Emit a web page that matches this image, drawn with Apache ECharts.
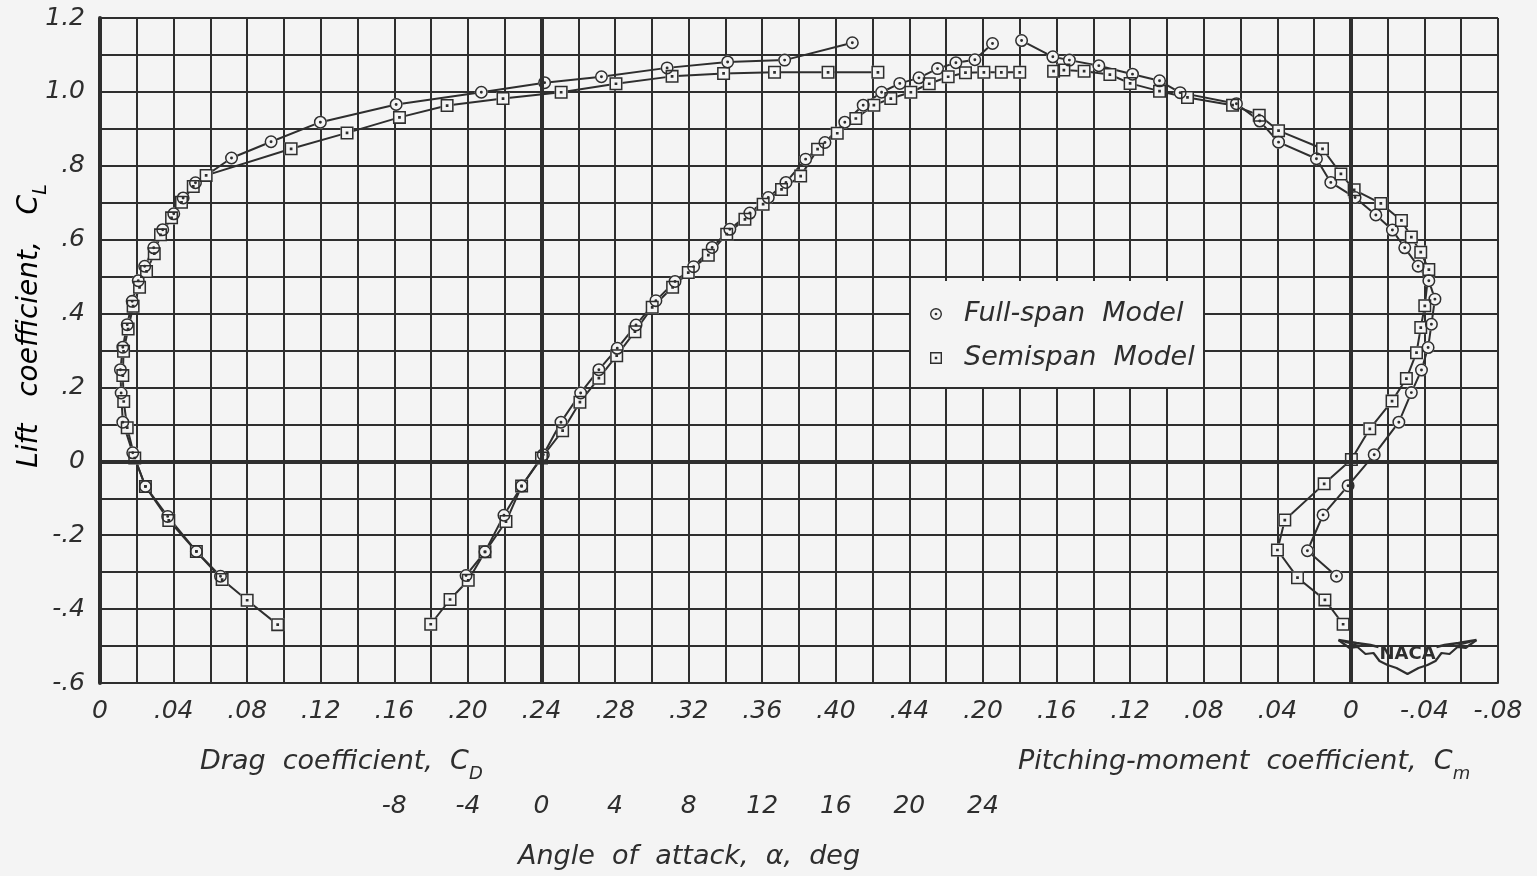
<!DOCTYPE html>
<html>
<head>
<meta charset="utf-8">
<script src="https://cdn.jsdelivr.net/npm/echarts@6/dist/echarts.min.js"></script>
<style>
  html, body { margin: 0; padding: 0; background: #f4f4f4; }
  #chart { width: 1537px; height: 876px; }
</style>
</head>
<body>
<div id="chart"></div>
<script>
// Lift, drag and pitching-moment characteristics, full-span vs semispan model.
// Each pair is [x value, lift coefficient C_L].

// Drag polar: [C_D, C_L]
const dragFull = [
  [0.0655, -0.311], [0.0524, -0.244], [0.0368, -0.149], [0.0247, -0.068], [0.0178, 0.023],
  [0.0124, 0.106], [0.0115, 0.185], [0.0111, 0.248], [0.0124, 0.309], [0.0148, 0.370],
  [0.0175, 0.433], [0.0208, 0.489], [0.0243, 0.528], [0.0292, 0.578], [0.0341, 0.627],
  [0.0401, 0.670], [0.0452, 0.713], [0.0519, 0.754], [0.0715, 0.821], [0.0930, 0.865],
  [0.1198, 0.918], [0.1610, 0.966], [0.2073, 0.999], [0.2417, 1.025], [0.2726, 1.041],
  [0.3083, 1.065], [0.3412, 1.081], [0.3722, 1.086], [0.4090, 1.133]
];
const dragSemi = [
  [0.0966, -0.442], [0.0800, -0.376], [0.0664, -0.320], [0.0524, -0.244], [0.0374, -0.160],
  [0.0247, -0.068], [0.0189, 0.009], [0.0148, 0.091], [0.0129, 0.162], [0.0124, 0.232],
  [0.0128, 0.298], [0.0153, 0.358], [0.0180, 0.420], [0.0215, 0.471], [0.0253, 0.514],
  [0.0295, 0.562], [0.0329, 0.613], [0.0389, 0.659], [0.0443, 0.701], [0.0507, 0.744],
  [0.0577, 0.774], [0.1039, 0.846], [0.1343, 0.889], [0.1628, 0.931], [0.1887, 0.963],
  [0.2191, 0.982], [0.2507, 0.999], [0.2805, 1.022], [0.3110, 1.042], [0.3390, 1.050],
  [0.3667, 1.053], [0.3958, 1.053], [0.4229, 1.053]
];

// Lift curve: [angle of attack (deg), C_L]
const liftFull = [
  [-4.10, -0.309], [-3.07, -0.245], [-2.04, -0.146], [-1.08, -0.067], [0.10, 0.018],
  [1.06, 0.106], [2.13, 0.185], [3.12, 0.248], [4.12, 0.306], [5.14, 0.369],
  [6.22, 0.435], [7.26, 0.487], [8.27, 0.527], [9.28, 0.579], [10.24, 0.628],
  [11.33, 0.672], [12.33, 0.714], [13.29, 0.755], [14.36, 0.818], [15.41, 0.863],
  [16.49, 0.918], [17.49, 0.964], [18.49, 0.999], [19.48, 1.023], [20.52, 1.038],
  [21.53, 1.063], [22.53, 1.079], [23.56, 1.087], [24.52, 1.131]
];
const liftSemi = [
  [-6.02, -0.441], [-4.97, -0.374], [-3.98, -0.322], [-3.07, -0.245], [-1.93, -0.163],
  [-1.08, -0.067], [0.00, 0.009], [1.15, 0.083], [2.09, 0.160], [3.12, 0.225],
  [4.09, 0.286], [5.08, 0.351], [6.02, 0.417], [7.13, 0.471], [7.98, 0.511],
  [9.07, 0.558], [10.07, 0.615], [11.06, 0.655], [12.05, 0.696], [13.05, 0.736],
  [14.09, 0.772], [15.01, 0.845], [16.08, 0.888], [17.09, 0.928], [18.07, 0.964],
  [18.99, 0.982], [20.08, 0.999], [21.08, 1.022], [22.11, 1.041], [23.05, 1.052],
  [24.05, 1.053], [25.00, 1.053], [26.00, 1.053]
];

// Pitching moment: [C_m, C_L]
const momentFull = [
  [0.0078, -0.311], [0.0236, -0.242], [0.0151, -0.145], [0.0015, -0.066], [-0.0127, 0.018],
  [-0.0261, 0.106], [-0.0329, 0.186], [-0.0384, 0.247], [-0.0420, 0.308], [-0.0438, 0.371],
  [-0.0457, 0.439], [-0.0424, 0.489], [-0.0366, 0.528], [-0.0293, 0.578], [-0.0226, 0.626],
  [-0.0136, 0.667], [-0.0023, 0.714], [0.0109, 0.755], [0.0187, 0.819], [0.0393, 0.864],
  [0.0495, 0.921], [0.0622, 0.968], [0.0928, 0.998], [0.1040, 1.030], [0.1187, 1.048],
  [0.1370, 1.071], [0.1530, 1.086], [0.1620, 1.095], [0.1790, 1.139]
];
const momentSemi = [
  [0.0042, -0.441], [0.0141, -0.375], [0.0290, -0.315], [0.0399, -0.240], [0.0359, -0.159],
  [0.0145, -0.061], [-0.0003, 0.005], [-0.0103, 0.088], [-0.0224, 0.163], [-0.0302, 0.224],
  [-0.0357, 0.294], [-0.0380, 0.362], [-0.0402, 0.421], [-0.0424, 0.519], [-0.0380, 0.566],
  [-0.0329, 0.607], [-0.0275, 0.652], [-0.0163, 0.698], [-0.0018, 0.735], [0.0054, 0.778],
  [0.0154, 0.846], [0.0393, 0.895], [0.0498, 0.937], [0.0643, 0.964], [0.0888, 0.985],
  [0.1040, 1.002], [0.1200, 1.023], [0.1310, 1.047], [0.1450, 1.056], [0.1560, 1.059],
  [0.1616, 1.056]
];

// Tick labels, listed from each axis minimum upward
const cdLabels = ['0', '.04', '.08', '.12', '.16', '.20', '.24', '.28', '.32', '.36', '.40', '.44'];
const cmLabels = ['-.08', '-.04', '0', '.04', '.08', '.12', '.16', '.20'];
const alphaLabels = ['-8', '-4', '0', '4', '8', '12', '16', '20', '24'];
const clLabels = ['-.6', '-.4', '-.2', '0', '.2', '.4', '.6', '.8', '1.0', '1.2'];

const seriesNames = ['Full-span Model', 'Semispan Model'];

const BG = '#f4f4f4';
const INK = '#2e2e2e';
const FONT = 'DejaVu Sans';

// Open circle / open square with a centre dot (nonzero fill leaves the ring hollow)
const RING = 'path://M12,0A12,12,0,1,1,12,24A12,12,0,1,1,12,0Z' +
  'M12,2.8A9.2,9.2,0,1,0,12,21.2A9.2,9.2,0,1,0,12,2.8Z' +
  'M12,9.3A2.7,2.7,0,1,1,12,14.7A2.7,2.7,0,1,1,12,9.3Z';
const BOX = 'path://M0,0H24V24H0Z' +
  'M2.8,2.8V21.2H21.2V2.8Z' +
  'M9.5,9.5H14.5V14.5H9.5Z';

const labelStyle = {
  fontFamily: FONT, fontStyle: 'italic', fontWeight: 'normal', fontSize: 25, color: INK
};

function curve(data, model, xIdx, extra) {
  const isFull = model === 0;
  const line = Object.assign({
    type: 'line',
    name: seriesNames[model] + ' line ' + xIdx,
    xAxisIndex: xIdx,
    data: data,
    symbol: isFull ? 'circle' : 'rect',
    symbolSize: 13,
    itemStyle: { color: BG },
    lineStyle: { color: INK, width: 2 },
    emphasis: { disabled: true },
    silent: true,
    z: 2
  }, extra || {});
  const marks = {
    type: 'scatter',
    name: seriesNames[model],
    xAxisIndex: xIdx,
    data: data,
    symbol: isFull ? RING : BOX,
    symbolSize: 13,
    itemStyle: { color: INK, opacity: 1 },
    emphasis: { disabled: true },
    silent: true,
    z: 3
  };
  return [line, marks];
}

function heavyLine(d) {
  return {
    silent: true,
    symbol: ['none', 'none'],
    label: { show: false },
    lineStyle: { type: 'solid', color: INK, width: 4 },
    emphasis: { disabled: true },
    data: d
  };
}

function nameRich(size) {
  return {
    t: { fontFamily: FONT, fontStyle: 'italic', fontWeight: 'normal', fontSize: size, color: INK, lineHeight: 42, verticalAlign: 'middle' },
    s: { fontFamily: FONT, fontStyle: 'italic', fontWeight: 'normal', fontSize: Math.round(size * 0.68), color: INK, lineHeight: 42, verticalAlign: 'bottom' }
  };
}

const chart = echarts.init(document.getElementById('chart'), null, { renderer: 'canvas' });

const option = {
  animation: false,
  backgroundColor: BG,
  grid: { left: 100, right: 39, top: 18, bottom: 193, containLabel: false },
  xAxis: [
    {
      // drag coefficient; also carries the grid lines
      type: 'value', gridIndex: 0, position: 'bottom',
      min: 0, max: 0.76, interval: 0.02,
      axisLine: { show: true, onZero: false, lineStyle: { color: INK, width: 2 } },
      axisTick: { show: false },
      splitLine: { show: true, lineStyle: { color: INK, width: 2 } },
      axisLabel: Object.assign({}, labelStyle, {
        interval: 0, margin: 16, showMinLabel: true, showMaxLabel: true,
        formatter: function (v) {
          const i = Math.round(v / 0.02);
          if (i % 2) return '';
          return cdLabels[i / 2] || '';
        }
      })
    },
    {
      // pitching-moment coefficient, decreasing to the right
      type: 'value', gridIndex: 0, position: 'bottom', inverse: true,
      min: -0.08, max: 0.68, interval: 0.04,
      axisLine: { show: false }, axisTick: { show: false }, splitLine: { show: false },
      axisLabel: Object.assign({}, labelStyle, {
        interval: 0, margin: 16, showMinLabel: true, showMaxLabel: true,
        formatter: function (v) {
          const k = Math.round((v + 0.08) / 0.04);
          return cmLabels[k] || '';
        }
      })
    },
    {
      // angle of attack, degrees
      type: 'value', gridIndex: 0, position: 'bottom', offset: 95,
      min: -24, max: 52, interval: 4,
      axisLine: { show: false }, axisTick: { show: false }, splitLine: { show: false },
      axisLabel: Object.assign({}, labelStyle, {
        interval: 0, margin: 16,
        formatter: function (v) {
          const k = Math.round((v + 8) / 4);
          return k >= 0 ? (alphaLabels[k] || '') : '';
        }
      })
    }
  ],
  yAxis: {
    type: 'value', min: -0.6, max: 1.2, interval: 0.1,
    axisLine: { show: true, onZero: false, lineStyle: { color: INK, width: 4 } },
    axisTick: { show: false },
    splitLine: { show: true, lineStyle: { color: INK, width: 2 } },
    axisLabel: Object.assign({}, labelStyle, {
      margin: 15, showMinLabel: true, showMaxLabel: true,
      formatter: function (v) {
        const i = Math.round((v + 0.6) / 0.1);
        if (i % 2) return '';
        return clLabels[i / 2] || '';
      }
    })
  },
  title: [
    { text: '{t|Drag  coefficient,  C}{s|D}', left: 200, top: 741, padding: 0,
      textStyle: { fontWeight: 'normal', rich: nameRich(27) } },
    { text: '{t|Pitching-moment  coefficient,  C}{s|m}', left: 1018, top: 741, padding: 0,
      textStyle: { fontWeight: 'normal', rich: nameRich(27) } },
    { text: '{t|Angle  of  attack,  α,  deg}', left: 518, top: 836, padding: 0,
      textStyle: { fontWeight: 'normal', rich: nameRich(27) } }
  ],
  legend: {
    orient: 'vertical', left: 930, top: 300, padding: 0,
    itemGap: 16, itemWidth: 46, itemHeight: 12,
    selectedMode: false,
    data: [
      { name: seriesNames[0], icon: RING },
      { name: seriesNames[1], icon: BOX }
    ],
    formatter: function (n) { return n.replace(' ', '  '); },
    textStyle: { fontFamily: FONT, fontStyle: 'italic', fontWeight: 'normal', fontSize: 27, color: INK, lineHeight: 28 }
  },
  graphic: [
    // clear area behind the legend
    { type: 'rect', left: 911, top: 281, z: 1, silent: true,
      shape: { width: 292, height: 106 }, style: { fill: BG } },
    // y-axis title
    { type: 'text', x: 30, y: 326, rotation: Math.PI / 2, z: 5, silent: true,
      style: { text: '{t|Lift   coefficient,   C}{s|L}', rich: nameRich(28), align: 'center', verticalAlign: 'middle' } },
    // NACA emblem
    { type: 'group', left: 1336, top: 636, z: 10, silent: true, children: [
      { type: 'rect', shape: { x: 0, y: 0, width: 142, height: 39 }, style: { fill: BG } },
      { type: 'polyline', shape: { points: [[2, 4], [20, 7], [34, 9], [42, 11]] },
        style: { stroke: INK, lineWidth: 2.4, fill: null } },
      { type: 'polyline', shape: { points: [[140, 4], [122, 7], [108, 9], [100, 11]] },
        style: { stroke: INK, lineWidth: 2.4, fill: null } },
      { type: 'polyline', shape: { points: [[2, 4], [13, 12], [21, 11], [29, 18], [37, 17], [43, 25], [51, 29], [60, 32], [71, 38], [82, 32], [91, 29], [99, 25], [105, 17], [113, 18], [121, 11], [129, 12], [140, 4]] },
        style: { stroke: INK, lineWidth: 2.2, fill: null, lineJoin: 'round' } },
      { type: 'polyline', shape: { points: [[8, 6], [24, 10]] }, style: { stroke: INK, lineWidth: 1.6, fill: null } },
      { type: 'polyline', shape: { points: [[134, 6], [118, 10]] }, style: { stroke: INK, lineWidth: 1.6, fill: null } },
      { type: 'text', x: 71, y: 18, style: { text: 'NACA', fontFamily: 'DejaVu Sans', fontWeight: 'bold', fontSize: 18, fill: INK, align: 'center', verticalAlign: 'middle' } }
    ] }
  ],
  series: [].concat(
    curve(dragFull, 0, 0, { markLine: heavyLine([{ yAxis: 0 }]) }),
    curve(dragSemi, 1, 0),
    curve(liftFull, 0, 2, { markLine: heavyLine([{ xAxis: 0 }]) }),
    curve(liftSemi, 1, 2),
    curve(momentFull, 0, 1, { markLine: heavyLine([{ xAxis: 0 }]) }),
    curve(momentSemi, 1, 1)
  )
};

chart.setOption(option);
</script>
</body>
</html>
